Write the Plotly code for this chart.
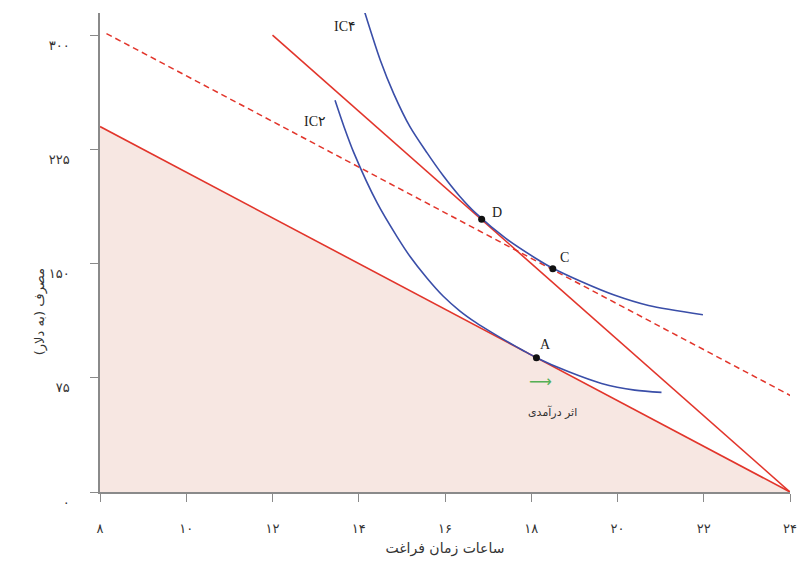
import plotly.graph_objects as go

# budget lines (leisure hours, consumption $)
budget_hours = [8, 24]
budget_cons = [240, 0]
steep_hours = [12, 24]
steep_cons = [300, 0]
dashed_hours = [8.15, 24.1]
dashed_cons = [301, 62]

# indifference curves
ic2_hours = [13.45, 13.66, 13.89, 14.43, 14.89, 15.19, 15.58, 15.96, 16.34, 16.72, 17.11, 17.49, 17.80,
             18.12, 18.87, 19.63, 20.40, 21.02]
ic2_cons = [257.2, 239.7, 222.5, 189.6, 167.5, 154.6, 140.5, 128.5, 119.0, 111.2, 104.3, 98.0, 93.1,
            88.2, 78.9, 71.3, 66.9, 65.4]
ic4_hours = [14.12, 14.50, 14.81, 15.19, 15.58, 15.96, 16.34, 16.72, 17.41, 18.10, 18.48, 19.17, 19.94,
             20.72, 21.98]
ic4_cons = [316.7, 283.5, 261.6, 239.7, 222.8, 207.6, 194.2, 182.9, 166.5, 153.5, 147.2, 138.0, 129.1,
            122.4, 116.4]

# points
pt_names = ["A", "D", "C"]
pt_hours = [18.12, 16.85, 18.5]
pt_cons = [88.2, 179.0, 146.5]

x_ticks = [8, 10, 12, 14, 16, 18, 20, 22, 24]
x_labels = ["۸", "۱۰", "۱۲", "۱۴", "۱۶", "۱۸", "۲۰", "۲۲", "۲۴"]
y_ticks = [0, 75, 150, 225, 300]
y_labels = ["۰", "۷۵", "۱۵۰", "۲۲۵", "۳۰۰"]

RED = "#e2352b"
BLUE = "#3a4ea8"
fa_font = "DejaVu Sans"
lat_font = "Liberation Serif, DejaVu Sans"

fig = go.Figure()

# shaded feasible set under the original budget line
fig.add_trace(go.Scatter(x=budget_hours, y=budget_cons, mode="lines", fill="tozeroy",
                         fillcolor="#f7e7e2", line=dict(color=RED, width=1.6)))
fig.add_trace(go.Scatter(x=steep_hours, y=steep_cons, mode="lines",
                         line=dict(color=RED, width=1.6)))
fig.add_trace(go.Scatter(x=dashed_hours, y=dashed_cons, mode="lines",
                         line=dict(color=RED, width=1.5, dash="6px,4px")))
fig.add_trace(go.Scatter(x=ic2_hours, y=ic2_cons, mode="lines", line_shape="spline",
                         line=dict(color=BLUE, width=1.6, smoothing=0.8)))
fig.add_trace(go.Scatter(x=ic4_hours, y=ic4_cons, mode="lines", line_shape="spline",
                         line=dict(color=BLUE, width=1.6, smoothing=0.8)))
fig.add_trace(go.Scatter(x=pt_hours, y=pt_cons, mode="markers",
                         marker=dict(color="#111111", size=7)))

# labels
fig.add_annotation(x=13.67, y=305.8, text="IC۴", showarrow=False, font=dict(family=lat_font, size=14, color="#222"))
fig.add_annotation(x=12.98, y=243.4, text="IC۲", showarrow=False, font=dict(family=lat_font, size=14, color="#222"))
label_dx = [0.22, 0.36, 0.27]
label_dy = [8.9, 4.7, 7.7]
for name, h, c, dx, dy in zip(pt_names, pt_hours, pt_cons, label_dx, label_dy):
    fig.add_annotation(x=h + dx, y=c + dy, text=name, showarrow=False,
                       font=dict(family=lat_font, size=14, color="#222"))

fig.add_annotation(x=18.22, y=72.5, text="⟶", showarrow=False,
                   font=dict(family=fa_font, size=16, color="#55b055"))
fig.add_annotation(x=18.49, y=52.5, text="اثر درآمدی", showarrow=False,
                   font=dict(family=fa_font, size=11, color="#333"))

# y axis title sits below the middle of the axis
fig.add_annotation(xref="paper", x=0, xshift=-70, y=118, text="مصرف (به دلار)", textangle=-90,
                   showarrow=False, font=dict(family=fa_font, size=13, color="#333"))

# page body has an 8px margin, so the figure is 16px smaller than the window
fig.update_layout(
    width=794, height=552,
    margin=dict(l=92, r=8, t=5, b=68),
    paper_bgcolor="white", plot_bgcolor="white",
    showlegend=False, hovermode=False,
)
fig.update_xaxes(range=[8, 24], tickvals=x_ticks, ticktext=x_labels,
                 showgrid=False, zeroline=False, showline=True, linecolor="#8a8a8a", linewidth=1.5,
                 ticks="outside", ticklen=8, tickcolor="#8a8a8a", tickwidth=1.2,
                 ticklabelstandoff=16,
                 tickfont=dict(family=fa_font, size=13, color="#333"),
                 title=dict(text="ساعات زمان فراغت", standoff=8, font=dict(family=fa_font, size=14, color="#333")))
fig.update_yaxes(range=[0, 314.5], tickvals=y_ticks, ticktext=y_labels,
                 showgrid=False, zeroline=False, showline=True, linecolor="#8a8a8a", linewidth=1.5,
                 ticks="outside", ticklen=8, tickcolor="#8a8a8a", tickwidth=1.2,
                 ticklabelstandoff=18, ticklabelshift=10,
                 tickfont=dict(family=fa_font, size=13, color="#333"))

fig.write_html("out.html", config={"displayModeBar": False})
